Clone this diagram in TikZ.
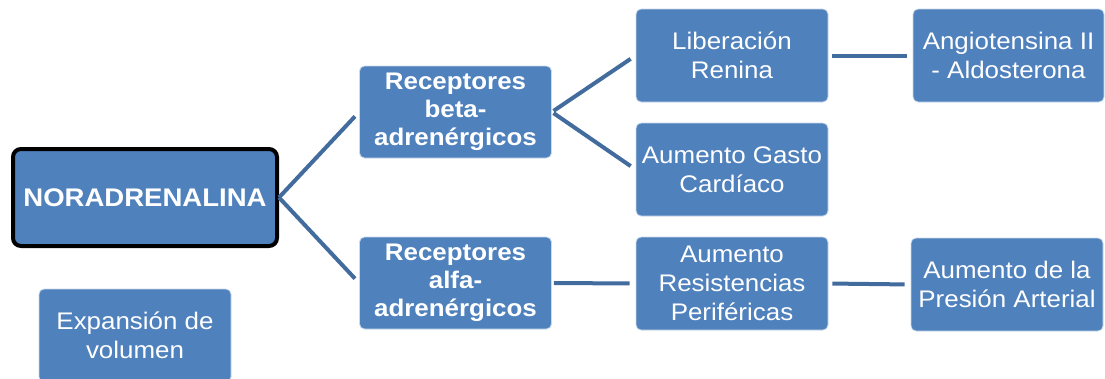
\documentclass[tikz,border=0pt]{standalone}
\usepackage{fontspec}
\setmainfont[FakeStretch=1.08]{Liberation Sans}
\definecolor{boxblue}{HTML}{4F81BD}
\definecolor{linkblue}{RGB}{67,108,158}
\tikzset{
  box/.style={rectangle, rounded corners=5pt, fill=boxblue, draw=white!70!boxblue, line width=0.8pt,
    text=white, align=center, font=\fontsize{24}{29}\selectfont, inner sep=0pt,
    minimum width=192pt, minimum height=93pt},
  boldbox/.style={box, font=\fontsize{24}{28}\selectfont\bfseries},
  link/.style={draw=linkblue, line width=4pt, shorten <=2pt, shorten >=6pt}
}
\begin{document}
\begin{tikzpicture}[x=1pt,y=-1pt]
\useasboundingbox (0,0) rectangle (1105,378);
\clip (0,0) rectangle (1105,378);
\node[box, draw=black, line width=4pt, rounded corners=8pt, minimum width=264pt, minimum height=97pt,
  font=\fontsize{25.5}{30}\selectfont\bfseries] (nor) at (145,197.5) {NORADRENALINA};
\node[boldbox, minimum height=92pt] (beta) at (455.5,112) {Receptores\\beta-\\adrenérgicos};
\node[boldbox, minimum height=92pt] (alfa) at (455.5,283) {Receptores\\alfa-\\adrenérgicos};
\node[box] (lib) at (732,55.5) {Liberación\\Renina};
\node[box] (gasto) at (732,169.5) {Aumento Gasto\\Cardíaco};
\node[box] (res) at (732,283.5) {Aumento\\Resistencias\\Periféricas};
\node[box, minimum width=191pt] (angio) at (1008.5,55.5) {Angiotensina II\\- Aldosterona};
\node[box] (pres) at (1007,284.5) {Aumento de la\\Presión Arterial};
\node[box] (exp) at (135,335.5) {Expansión de\\volumen};
\draw[link, shorten <=0pt] (nor.east) -- (beta.west);
\draw[link, shorten <=0pt] (nor.east) -- (alfa.west);
\draw[link] (beta.east) -- (lib.west);
\draw[link] (beta.east) -- (gasto.west);
\draw[link] (alfa.east) -- (res.west);
\draw[link, shorten <=4pt] (lib.east) -- (angio.west);
\draw[link, shorten <=4pt] (res.east) -- (pres.west);
\end{tikzpicture}
\end{document}
